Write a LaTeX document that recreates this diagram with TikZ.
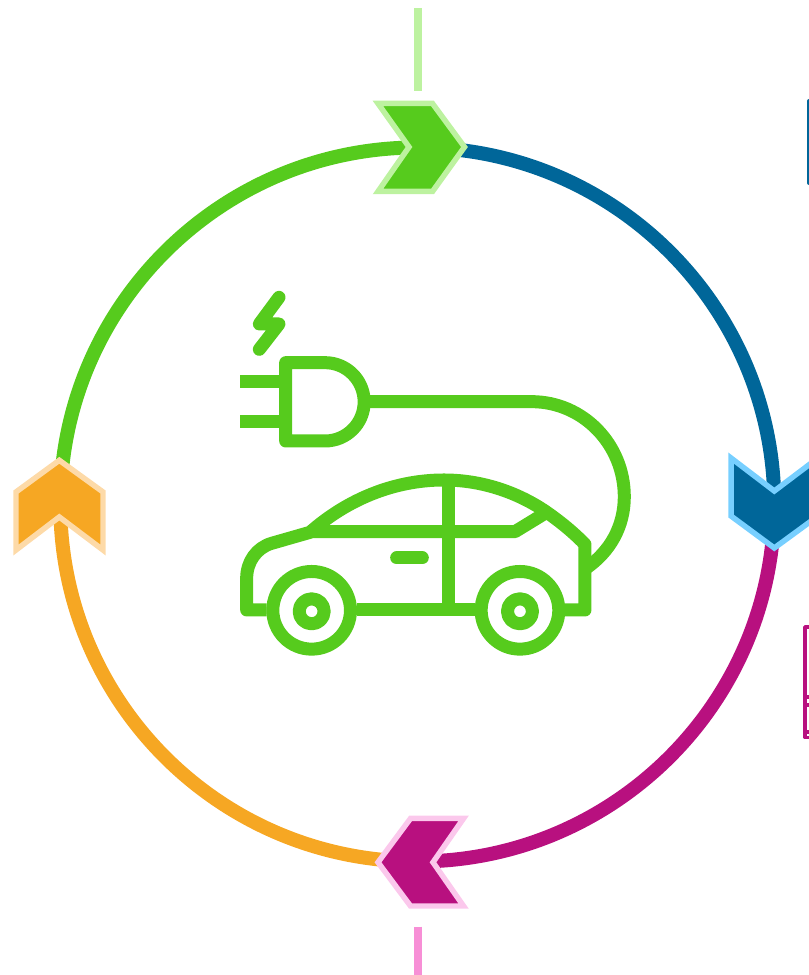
\documentclass[tikz,border=0pt]{standalone}
\definecolor{grn}{HTML}{56CB1D}
\definecolor{grnl}{HTML}{BDF2A0}
\definecolor{blu}{HTML}{006699}
\definecolor{blul}{HTML}{77CFFF}
\definecolor{mag}{HTML}{B8107F}
\definecolor{magl}{HTML}{FBC8EC}
\definecolor{magm}{HTML}{F78FD6}
\definecolor{org}{HTML}{F6A723}
\definecolor{orgl}{HTML}{FDDAA8}
\tikzset{
  ringseg/.style={line width=0.28cm},
  chev/.style={line width=0.11cm,miter limit=10},
  tick/.style={line width=0.16cm},
  icon/.style={draw=grn,line width=0.26cm,line join=round},
}
\begin{document}
\begin{tikzpicture}[x=0.02cm,y=0.02cm]
\useasboundingbox (0,0) rectangle (809,975);
\clip (0,0) rectangle (809,975);
\coordinate (c) at (417.3,470.5);
% clipped frames at the right edge
\draw[blu,line width=0.08cm,line cap=round] (809,792) -- (809,874);
\draw[mag,line width=0.07cm,line join=round] (830,348) -- (805,348) -- (805,237.5) -- (830,237.5)
  (805,278) -- (830,278) (805,270) -- (830,270) (805,243) -- (830,243);
% ring
\draw[ringseg,blu] (c) ++(90:357) arc[start angle=90,end angle=0,radius=357];
\draw[ringseg,mag] (c) ++(0:357) arc[start angle=0,end angle=-90,radius=357];
\draw[ringseg,org] (c) ++(-90:357) arc[start angle=-90,end angle=-180,radius=357];
\draw[ringseg,grn] (c) ++(180:357) arc[start angle=180,end angle=90,radius=357];
% ticks
\draw[tick,grnl] (418,967) -- (418,884.3);
\draw[tick,magm] (418,48.3) -- (418,0);
% chevrons
\draw[chev,draw=grnl,fill=grn] (378,871.5) -- (432.5,871.5) -- (464.5,828) -- (432.5,783.5) -- (378,783.5) -- (409,828) -- cycle;
\draw[chev,draw=magl,fill=mag] (463.5,156.5) -- (410.5,156.5) -- (378,112.7) -- (410.5,69) -- (463.5,69) -- (433,112.7) -- cycle;
\draw[chev,draw=blul,fill=blu] (731,517) -- (774.3,484) -- (818,517) -- (818,459) -- (774.3,427) -- (731,459) -- cycle;
\draw[chev,draw=orgl,fill=org] (16,425) -- (59.3,458) -- (103,425) -- (103,483) -- (59.3,514.7) -- (16,483) -- cycle;
% icon
\begin{scope}[shift={(220,695)},x=0.02cm/3,y=0.02cm/3]
  \draw[icon,line cap=round] (177,-52) -- (118,-132) -- (177,-132) -- (118,-208);
  \draw[icon] (197,-248) -- (315,-248) arc[start angle=90,end angle=-90,radius=117.5] -- (197,-483) -- cycle;
  \draw[icon] (60,-306) -- (197,-306) (60,-424) -- (197,-424);
  \draw[icon] (431,-365) -- (935,-365) arc[start angle=90,end angle=0,x radius=278,y radius=285]
    .. controls (1213,-740) and (1170,-815) .. (1098,-865);
  \draw[icon] (140,-990) -- (80,-990) -- (80,-895) .. controls (80,-845) and (110,-803) .. (155,-790) -- (270,-757)
    .. controls (380,-660) and (520,-600) .. (672,-600)
    .. controls (790,-600) and (900,-640) .. (985,-700)
    .. controls (1030,-732) and (1065,-762) .. (1095,-793) -- (1095,-990) -- (1035,-990);
  \draw[icon] (410,-990) -- (765,-990);
  \draw[icon] (275,-755) -- (885,-755) -- (980,-697);
  \draw[icon] (686,-600) -- (686,-990);
  \draw[icon,line cap=round] (530,-834) -- (607,-834);
  \draw[icon] (275,-991) circle[radius=116.5] (900,-991) circle[radius=116.5];
  \draw[icon] (275,-994) circle[radius=37.5] (900,-994) circle[radius=37.5];
\end{scope}
\end{tikzpicture}
\end{document}
